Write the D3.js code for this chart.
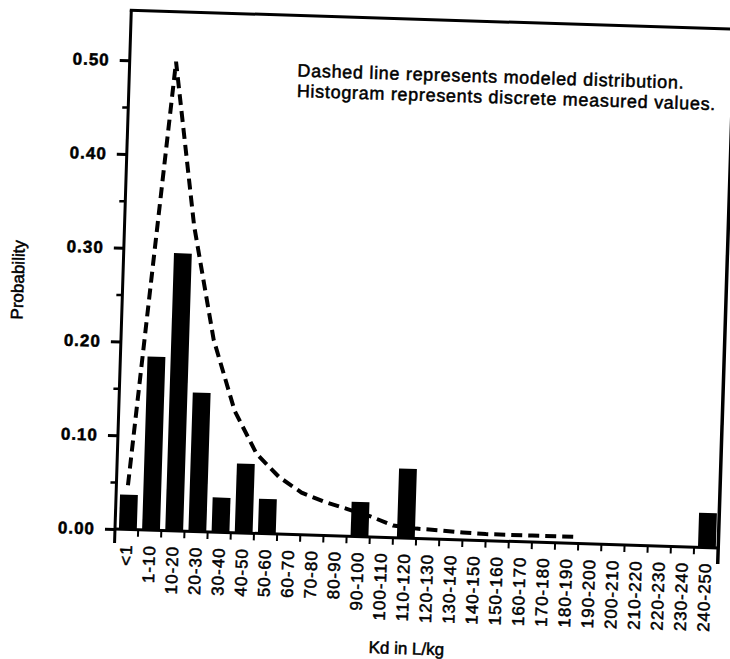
<!DOCTYPE html>
<html>
<head>
<meta charset="utf-8">
<script src="https://cdn.jsdelivr.net/npm/d3@7"></script>
<style>
  body { margin: 0; background: #fff; }
  svg { display: block; font-family: "Liberation Sans", Arial, sans-serif; }
  text { stroke: #000; stroke-width: 0.5px; }
</style>
</head>
<body>
<svg id="chart" width="730" height="659"></svg>
<script>
// Kd bins (L/kg)
const categories = ["<1", "1-10", "10-20", "20-30", "30-40", "40-50", "50-60", "60-70", "70-80", "80-90",
    "90-100", "100-110", "110-120", "120-130", "130-140", "140-150", "150-160", "160-170", "170-180",
    "180-190", "190-200", "200-210", "210-220", "220-230", "230-240", "240-250"];

// histogram of measured values
const measured = [0.037, 0.185, 0.296, 0.148, 0.037, 0.074, 0.037, 0, 0, 0,
    0.037, 0, 0.074, 0, 0, 0, 0, 0, 0,
    0, 0, 0, 0, 0, 0, 0.037];

// modeled distribution (dashed line), Kd and probability
const modelKd = [0.5, 10, 20, 30, 40, 50, 60, 70, 80, 90, 100, 110, 120, 130, 140, 150, 160, 170, 180, 190];
const modelProb = [0.047, 0.50, 0.326, 0.205, 0.130, 0.085, 0.061, 0.045, 0.036, 0.029, 0.022, 0.013,
    0.0105, 0.0095, 0.008, 0.007, 0.007, 0.007, 0.007, 0.007];

const yTicks = [0, 0.1, 0.2, 0.3, 0.4, 0.5];
const yMinorTicks = [0.05, 0.15, 0.25, 0.35, 0.45];

const notes = ["Dashed line represents modeled distribution.", "Histogram represents discrete measured values."];

const svg = d3.select("#chart");

// the scanned page is a bit tilted
const g = svg.append("g").attr("transform", "rotate(1.8,115,529)");

const x = d3.scaleBand().domain(categories).range([115, 717.5]).padding(0);
const y = d3.scaleLinear().domain([0, 0.5]).range([529, 60]);
const kd = d3.scaleLinear()
    .domain([0, 1, 10, 250])
    .range([x("<1"), x("1-10"), x("10-20"), x.range()[1]]);

const step = x.step();
const right = x.range()[1] + 1;

// bars
g.selectAll(".bar")
    .data(categories.map((c, i) => ({ cat: c, v: measured[i] })).filter(d => d.v > 0))
    .enter()
    .append("rect")
    .attr("class", "bar")
    .attr("x", d => x(d.cat) + step * 0.17)
    .attr("width", step * 0.77)
    .attr("y", d => y(d.v))
    .attr("height", d => y(0) - y(d.v))
    .style("fill", "#000");

// modeled line
const line = d3.line()
    .x(d => kd(d[0]))
    .y(d => y(d[1]));

g.append("path")
    .datum(modelKd.map((k, i) => [k, modelProb[i]]))
    .attr("d", line)
    .style("fill", "none")
    .style("stroke", "#000")
    .style("stroke-width", 4)
    .style("stroke-dasharray", "11,6");

// frame
g.append("line").attr("x1", 115).attr("x2", 115).attr("y1", 10).attr("y2", 543)
    .style("stroke", "#000").style("stroke-width", 3);
g.append("line").attr("x1", 113.5).attr("x2", right + 2).attr("y1", 10).attr("y2", 10)
    .style("stroke", "#000").style("stroke-width", 3);
g.append("line").attr("x1", right).attr("x2", right).attr("y1", 10).attr("y2", 545)
    .style("stroke", "#000").style("stroke-width", 3.5);
g.append("line").attr("x1", 115).attr("x2", right).attr("y1", y(0)).attr("y2", y(0))
    .style("stroke", "#000").style("stroke-width", 3);

// x ticks on bin edges
g.selectAll(".xtick")
    .data(categories.slice(1))
    .enter()
    .append("line")
    .attr("class", "xtick")
    .attr("x1", d => x(d)).attr("x2", d => x(d))
    .attr("y1", y(0)).attr("y2", y(0) + 7)
    .style("stroke", "#000").style("stroke-width", 2);

// x labels
const xAxis = g.append("g")
    .attr("transform", "translate(0," + y(0) + ")")
    .call(d3.axisBottom(x).tickSize(0).tickSizeOuter(0));
xAxis.select(".domain").remove();
xAxis.selectAll("text")
    .attr("transform", "rotate(-90)")
    .attr("x", -15)
    .attr("y", 0)
    .attr("dy", "0.35em")
    .style("text-anchor", "end")
    .style("font-family", "Liberation Sans, Arial, sans-serif")
    .style("font-size", "17px")
    .style("letter-spacing", "1px")
    .style("fill", "#000");

// y axis
const yAxis = g.append("g")
    .attr("transform", "translate(115,0)")
    .call(d3.axisLeft(y).tickValues(yTicks).tickFormat(d3.format(".2f")).tickSize(10).tickPadding(10));
yAxis.select(".domain").remove();
yAxis.selectAll("line").style("stroke", "#000").style("stroke-width", 3);
yAxis.selectAll("text")
    .style("font-family", "Liberation Sans, Arial, sans-serif")
    .style("font-size", "17px")
    .style("font-weight", "bold")
    .style("letter-spacing", "1px")
    .style("fill", "#000");

const yMinor = g.append("g")
    .attr("transform", "translate(115,0)")
    .call(d3.axisLeft(y).tickValues(yMinorTicks).tickFormat("").tickSize(6));
yMinor.select(".domain").remove();
yMinor.selectAll("line").style("stroke", "#000").style("stroke-width", 2.5);

// axis titles
g.append("text")
    .attr("transform", "translate(16,283) rotate(-90)")
    .style("text-anchor", "middle")
    .style("font-size", "17px")
    .style("fill", "#000")
    .text("Probability");

g.append("text")
    .attr("x", 410)
    .attr("y", 645)
    .style("text-anchor", "middle")
    .style("font-size", "17px")
    .style("fill", "#000")
    .text("Kd in L/kg");

// note
g.selectAll(".note")
    .data(notes)
    .enter()
    .append("text")
    .attr("class", "note")
    .attr("x", 283)
    .attr("y", (d, i) => 71 + i * 20.5)
    .style("font-size", "18px")
    .style("letter-spacing", "0.7px")
    .style("fill", "#000")
    .text(d => d);
</script>
</body>
</html>
